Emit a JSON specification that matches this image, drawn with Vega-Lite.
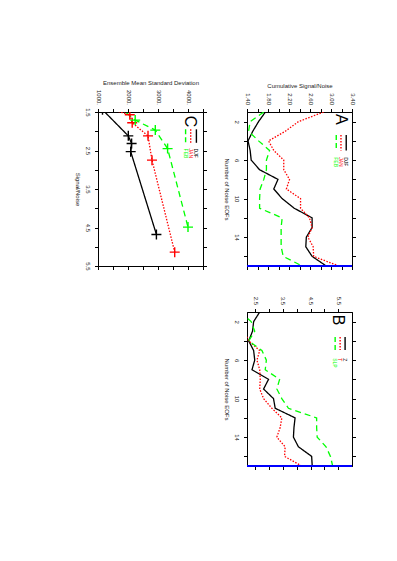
{
  "$schema": "https://vega.github.io/schema/vega-lite/v6.json",
  "autosize": {"type": "none"},
  "padding": {"left": 98, "top": 112, "right": 299, "bottom": 449},
  "background": "white",
  "datasets": {
    "a": [
      {"s":"DJF","eof":1,"v":1.75},{"s":"DJF","eof":2,"v":1.62},{"s":"DJF","eof":3,"v":1.51},{"s":"DJF","eof":4,"v":1.42},{"s":"DJF","eof":5,"v":1.46},{"s":"DJF","eof":6,"v":1.48},{"s":"DJF","eof":7,"v":1.64},{"s":"DJF","eof":8,"v":1.99},{"s":"DJF","eof":9,"v":1.91},{"s":"DJF","eof":10,"v":2.07},{"s":"DJF","eof":11,"v":2.30},{"s":"DJF","eof":12,"v":2.64},{"s":"DJF","eof":13,"v":2.64},{"s":"DJF","eof":14,"v":2.53},{"s":"DJF","eof":15,"v":2.52},{"s":"DJF","eof":16,"v":2.64},{"s":"DJF","eof":17,"v":2.91},
      {"s":"JAN","eof":1,"v":2.86},{"s":"JAN","eof":2,"v":2.38},{"s":"JAN","eof":3,"v":2.13},{"s":"JAN","eof":4,"v":1.81},{"s":"JAN","eof":5,"v":1.91},{"s":"JAN","eof":6,"v":2.10},{"s":"JAN","eof":7,"v":2.10},{"s":"JAN","eof":8,"v":2.21},{"s":"JAN","eof":9,"v":2.15},{"s":"JAN","eof":10,"v":2.42},{"s":"JAN","eof":11,"v":2.42},{"s":"JAN","eof":12,"v":2.59},{"s":"JAN","eof":13,"v":2.64},{"s":"JAN","eof":14,"v":2.56},{"s":"JAN","eof":15,"v":2.66},{"s":"JAN","eof":16,"v":2.67},{"s":"JAN","eof":17,"v":3.15},
      {"s":"FEB","eof":1,"v":1.72},{"s":"FEB","eof":2,"v":1.46},{"s":"FEB","eof":3,"v":1.43},{"s":"FEB","eof":4,"v":1.62},{"s":"FEB","eof":5,"v":1.83},{"s":"FEB","eof":6,"v":1.77},{"s":"FEB","eof":7,"v":1.77},{"s":"FEB","eof":8,"v":1.72},{"s":"FEB","eof":9,"v":1.65},{"s":"FEB","eof":10,"v":1.64},{"s":"FEB","eof":11,"v":1.64},{"s":"FEB","eof":12,"v":2.07},{"s":"FEB","eof":13,"v":2.05},{"s":"FEB","eof":14,"v":2.05},{"s":"FEB","eof":15,"v":2.05},{"s":"FEB","eof":16,"v":2.09},{"s":"FEB","eof":17,"v":2.45}
    ],
    "b": [
      {"s":"Z","eof":1,"v":2.66},{"s":"Z","eof":2,"v":2.44},{"s":"Z","eof":3,"v":2.40},{"s":"Z","eof":4,"v":2.26},{"s":"Z","eof":5,"v":2.44},{"s":"Z","eof":6,"v":2.48},{"s":"Z","eof":7,"v":2.38},{"s":"Z","eof":8,"v":2.98},{"s":"Z","eof":9,"v":2.80},{"s":"Z","eof":10,"v":3.16},{"s":"Z","eof":11,"v":3.22},{"s":"Z","eof":12,"v":3.94},{"s":"Z","eof":13,"v":3.90},{"s":"Z","eof":14,"v":3.88},{"s":"Z","eof":15,"v":4.06},{"s":"Z","eof":16,"v":4.54},{"s":"Z","eof":17,"v":4.56},
      {"s":"T","eof":3,"v":2.10},{"s":"T","eof":4,"v":2.26},{"s":"T","eof":5,"v":2.66},{"s":"T","eof":6,"v":2.56},{"s":"T","eof":7,"v":2.66},{"s":"T","eof":8,"v":2.68},{"s":"T","eof":9,"v":2.66},{"s":"T","eof":10,"v":2.80},{"s":"T","eof":11,"v":3.10},{"s":"T","eof":12,"v":3.46},{"s":"T","eof":13,"v":3.40},{"s":"T","eof":14,"v":3.28},{"s":"T","eof":15,"v":3.58},{"s":"T","eof":16,"v":3.56},{"s":"T","eof":17,"v":4.18},
      {"s":"SLP","eof":1,"v":1.95},{"s":"SLP","eof":2,"v":2.35},{"s":"SLP","eof":3,"v":2.48},{"s":"SLP","eof":4,"v":2.26},{"s":"SLP","eof":5,"v":2.74},{"s":"SLP","eof":6,"v":2.90},{"s":"SLP","eof":7,"v":2.86},{"s":"SLP","eof":8,"v":3.38},{"s":"SLP","eof":9,"v":3.28},{"s":"SLP","eof":10,"v":3.46},{"s":"SLP","eof":11,"v":3.70},{"s":"SLP","eof":12,"v":4.72},{"s":"SLP","eof":13,"v":4.72},{"s":"SLP","eof":14,"v":4.74},{"s":"SLP","eof":15,"v":5.06},{"s":"SLP","eof":16,"v":5.22},{"s":"SLP","eof":17,"v":5.30}
    ],
    "c": [
      {"s":"DJF","sn":1.44,"sd":1150},{"s":"DJF","sn":2.12,"sd":2010},{"s":"DJF","sn":2.32,"sd":2120},{"s":"DJF","sn":2.53,"sd":2090},{"s":"DJF","sn":4.68,"sd":2947},
      {"s":"JAN","sn":1.36,"sd":1100},{"s":"JAN","sn":1.57,"sd":2060},{"s":"JAN","sn":1.78,"sd":2140},{"s":"JAN","sn":2.12,"sd":2667},{"s":"JAN","sn":2.75,"sd":2800},{"s":"JAN","sn":5.14,"sd":3557},
      {"s":"FEB","sn":1.36,"sd":1690},{"s":"FEB","sn":1.71,"sd":2240},{"s":"FEB","sn":1.97,"sd":2910},{"s":"FEB","sn":2.45,"sd":3320},{"s":"FEB","sn":4.49,"sd":4000}
    ],
    "one": [{}]
  },
  "hconcat": [
    {
      "width": 105, "height": 154,
      "data": {"name": "c"},
      "layer": [
        {"mark": {"type": "line", "clip": true, "strokeWidth": 1.3},
         "encoding": {
           "x": {"field": "sd", "type": "quantitative", "scale": {"domain": [1000, 4500], "nice": false, "zero": false},
                 "axis": {"orient": "top", "title": "Ensemble Mean Standard Deviation", "values": [1000,1500,2000,2500,3000,3500,4000,4500], "labelExpr": "datum.value % 1000 == 0 && datum.value < 4500 ? datum.value + '.' : ''", "labelAngle": 90, "labelAlign": "right", "labelBaseline": "middle"}},
           "y": {"field": "sn", "type": "quantitative", "scale": {"domain": [1.5, 5.5], "reverse": true, "nice": false, "zero": false},
                 "axis": {"orient": "left", "title": "Signal/Noise", "values": [1.5,2,2.5,3,3.5,4,4.5,5,5.5], "labelExpr": "round(datum.value*10) % 10 == 5 ? format(datum.value, '.1f') : ''", "labelAngle": 90, "labelAlign": "center", "labelBaseline": "top", "titleAngle": 90, "titleBaseline": "top"}},
           "color": {"field": "s", "type": "nominal", "scale": {"domain": ["DJF","JAN","FEB"], "range": ["#000000","#ff0000","#00ff00"]}, "legend": null},
           "strokeDash": {"field": "s", "type": "nominal", "scale": {"domain": ["DJF","JAN","FEB"], "range": [[1,0],[1.5,1.5],[6,4]]}, "legend": null},
           "order": {"field": "sn", "type": "quantitative"}
         }},
        {"mark": {"type": "point", "clip": true, "shape": "M-1,0L1,0M0,-1L0,1", "size": 100, "strokeWidth": 1.4, "filled": false, "opacity": 1},
         "encoding": {
           "x": {"field": "sd", "type": "quantitative", "scale": {"domain": [1000, 4500], "nice": false, "zero": false},
                 "axis": {"orient": "bottom", "labels": false, "title": null, "values": [1000,1500,2000,2500,3000,3500,4000,4500]}},
           "y": {"field": "sn", "type": "quantitative", "scale": {"domain": [1.5, 5.5], "reverse": true, "nice": false, "zero": false},
                 "axis": {"orient": "right", "labels": false, "title": null, "values": [1.5,2,2.5,3,3.5,4,4.5,5,5.5]}},
           "color": {"field": "s", "type": "nominal", "scale": {"domain": ["DJF","JAN","FEB"], "range": ["#000000","#ff0000","#00ff00"]}, "legend": null}
         }},
        {"data": {"name": "one"}, "mark": {"type": "text", "text": "C", "angle": 90, "fontSize": 16, "align": "center", "baseline": "middle"},
         "encoding": {"x": {"datum": 4057, "type": "quantitative", "axis": null}, "y": {"datum": 1.75, "type": "quantitative", "axis": null}}},
        {"data": {"name": "one"}, "mark": {"type": "rule", "color": "#000000", "strokeWidth": 1.4},
         "encoding": {"x": {"datum": 4280, "type": "quantitative", "axis": null}, "y": {"datum": 1.95, "type": "quantitative", "axis": null}, "y2": {"datum": 2.3}}},
        {"data": {"name": "one"}, "mark": {"type": "rule", "color": "#ff0000", "strokeWidth": 1.4, "strokeDash": [1.5, 1.5]},
         "encoding": {"x": {"datum": 4090, "type": "quantitative", "axis": null}, "y": {"datum": 1.95, "type": "quantitative", "axis": null}, "y2": {"datum": 2.3}}},
        {"data": {"name": "one"}, "mark": {"type": "rule", "color": "#00ff00", "strokeWidth": 1.4, "strokeDash": [5, 3]},
         "encoding": {"x": {"datum": 3920, "type": "quantitative", "axis": null}, "y": {"datum": 1.95, "type": "quantitative", "axis": null}, "y2": {"datum": 2.3}}},
        {"data": {"name": "one"}, "mark": {"type": "text", "text": "DJF", "angle": 90, "fontSize": 5, "align": "left", "baseline": "middle", "color": "#000000"},
         "encoding": {"x": {"datum": 4280, "type": "quantitative", "axis": null}, "y": {"datum": 2.45, "type": "quantitative", "axis": null}}},
        {"data": {"name": "one"}, "mark": {"type": "text", "text": "JAN", "angle": 90, "fontSize": 5, "align": "left", "baseline": "middle", "color": "#ff0000"},
         "encoding": {"x": {"datum": 4090, "type": "quantitative", "axis": null}, "y": {"datum": 2.45, "type": "quantitative", "axis": null}}},
        {"data": {"name": "one"}, "mark": {"type": "text", "text": "FEB", "angle": 90, "fontSize": 5, "align": "left", "baseline": "middle", "color": "#00ff00"},
         "encoding": {"x": {"datum": 3920, "type": "quantitative", "axis": null}, "y": {"datum": 2.45, "type": "quantitative", "axis": null}}}
      ],
      "resolve": {"axis": {"x": "independent", "y": "independent"}}
    },
    {
      "spacing": 46,
      "bounds": "flush",
      "vconcat": [
        {
          "width": 105, "height": 154,
          "data": {"name": "a"},
          "layer": [
            {"mark": {"type": "line", "clip": true, "strokeWidth": 1.3},
             "encoding": {
               "x": {"field": "v", "type": "quantitative", "scale": {"domain": [1.4, 3.4], "nice": false, "zero": false},
                     "axis": {"orient": "top", "title": "Cumulative Signal/Noise", "values": [1.4,1.6,1.8,2.0,2.2,2.4,2.6,2.8,3.0,3.2,3.4], "labelExpr": "round(datum.value*10) % 4 == 2 ? format(datum.value, '.2f') : ''", "labelAngle": 90, "labelAlign": "right", "labelBaseline": "middle"}},
               "y": {"field": "eof", "type": "quantitative", "scale": {"domain": [1, 17], "reverse": true, "nice": false, "zero": false},
                     "axis": {"orient": "left", "title": "Number of Noise EOFs", "values": [2,4,6,8,10,12,14,16], "labelExpr": "datum.value % 4 == 2 ? datum.label : ''", "labelAngle": 90, "labelAlign": "center", "labelBaseline": "top", "titleAngle": 90, "titleBaseline": "top"}},
               "color": {"field": "s", "type": "nominal", "scale": {"domain": ["DJF","JAN","FEB"], "range": ["#000000","#ff0000","#00ff00"]}, "legend": null},
               "strokeDash": {"field": "s", "type": "nominal", "scale": {"domain": ["DJF","JAN","FEB"], "range": [[1,0],[1.5,1.5],[6,4]]}, "legend": null},
               "order": {"field": "eof", "type": "quantitative"}
             }},
            {"mark": {"type": "point", "opacity": 0},
             "encoding": {
               "x": {"field": "v", "type": "quantitative", "scale": {"domain": [1.4, 3.4], "nice": false, "zero": false},
                     "axis": {"orient": "bottom", "labels": false, "title": null, "values": [1.4,1.6,1.8,2.0,2.2,2.4,2.6,2.8,3.0,3.2,3.4]}},
               "y": {"field": "eof", "type": "quantitative", "scale": {"domain": [1, 17], "reverse": true, "nice": false, "zero": false},
                     "axis": {"orient": "right", "labels": false, "title": null, "values": [2,4,6,8,10,12,14,16]}}
             }},
            {"data": {"name": "one"}, "mark": {"type": "rule", "color": "#0000ff", "strokeWidth": 2.2},
             "encoding": {"y": {"datum": 17, "type": "quantitative", "axis": null}}},
            {"data": {"name": "one"}, "mark": {"type": "text", "text": "A", "angle": 90, "fontSize": 16, "align": "center", "baseline": "middle"},
             "encoding": {"x": {"datum": 3.19, "type": "quantitative", "axis": null}, "y": {"datum": 1.75, "type": "quantitative", "axis": null}}},
            {"data": {"name": "one"}, "mark": {"type": "rule", "color": "#000000", "strokeWidth": 1.4},
             "encoding": {"x": {"datum": 3.29, "type": "quantitative", "axis": null}, "y": {"datum": 3.4, "type": "quantitative", "axis": null}, "y2": {"datum": 5.0}}},
            {"data": {"name": "one"}, "mark": {"type": "rule", "color": "#ff0000", "strokeWidth": 1.4, "strokeDash": [1.5, 1.5]},
             "encoding": {"x": {"datum": 3.19, "type": "quantitative", "axis": null}, "y": {"datum": 3.4, "type": "quantitative", "axis": null}, "y2": {"datum": 5.0}}},
            {"data": {"name": "one"}, "mark": {"type": "rule", "color": "#00ff00", "strokeWidth": 1.4, "strokeDash": [5, 3]},
             "encoding": {"x": {"datum": 3.10, "type": "quantitative", "axis": null}, "y": {"datum": 3.4, "type": "quantitative", "axis": null}, "y2": {"datum": 5.0}}},
            {"data": {"name": "one"}, "mark": {"type": "text", "text": "DJF", "angle": 90, "fontSize": 5, "align": "left", "baseline": "middle", "color": "#000000"},
             "encoding": {"x": {"datum": 3.29, "type": "quantitative", "axis": null}, "y": {"datum": 5.7, "type": "quantitative", "axis": null}}},
            {"data": {"name": "one"}, "mark": {"type": "text", "text": "JAN", "angle": 90, "fontSize": 5, "align": "left", "baseline": "middle", "color": "#ff0000"},
             "encoding": {"x": {"datum": 3.19, "type": "quantitative", "axis": null}, "y": {"datum": 5.7, "type": "quantitative", "axis": null}}},
            {"data": {"name": "one"}, "mark": {"type": "text", "text": "FEB", "angle": 90, "fontSize": 5, "align": "left", "baseline": "middle", "color": "#00ff00"},
             "encoding": {"x": {"datum": 3.10, "type": "quantitative", "axis": null}, "y": {"datum": 5.7, "type": "quantitative", "axis": null}}}
          ],
          "resolve": {"axis": {"x": "independent", "y": "independent"}}
        },
        {
          "width": 105, "height": 154,
          "data": {"name": "b"},
          "layer": [
            {"mark": {"type": "line", "clip": true, "strokeWidth": 1.3},
             "encoding": {
               "x": {"field": "v", "type": "quantitative", "scale": {"domain": [2.2, 6.0], "nice": false, "zero": false},
                     "axis": {"orient": "top", "title": null, "values": [2.5,3.0,3.5,4.0,4.5,5.0,5.5], "labelExpr": "round(datum.value*10) % 10 == 5 ? format(datum.value, '.1f') : ''", "labelAngle": 90, "labelAlign": "right", "labelBaseline": "middle"}},
               "y": {"field": "eof", "type": "quantitative", "scale": {"domain": [1, 17], "reverse": true, "nice": false, "zero": false},
                     "axis": {"orient": "left", "title": "Number of Noise EOFs", "values": [2,4,6,8,10,12,14,16], "labelExpr": "datum.value % 4 == 2 ? datum.label : ''", "labelAngle": 90, "labelAlign": "center", "labelBaseline": "top", "titleAngle": 90, "titleBaseline": "top"}},
               "color": {"field": "s", "type": "nominal", "scale": {"domain": ["Z","T","SLP"], "range": ["#000000","#ff0000","#00ff00"]}, "legend": null},
               "strokeDash": {"field": "s", "type": "nominal", "scale": {"domain": ["Z","T","SLP"], "range": [[1,0],[1.5,1.5],[6,4]]}, "legend": null},
               "order": {"field": "eof", "type": "quantitative"}
             }},
            {"mark": {"type": "point", "opacity": 0},
             "encoding": {
               "x": {"field": "v", "type": "quantitative", "scale": {"domain": [2.2, 6.0], "nice": false, "zero": false},
                     "axis": {"orient": "bottom", "labels": false, "title": null, "values": [2.5,3.0,3.5,4.0,4.5,5.0,5.5]}},
               "y": {"field": "eof", "type": "quantitative", "scale": {"domain": [1, 17], "reverse": true, "nice": false, "zero": false},
                     "axis": {"orient": "right", "labels": false, "title": null, "values": [2,4,6,8,10,12,14,16]}}
             }},
            {"data": {"name": "one"}, "mark": {"type": "rule", "color": "#0000ff", "strokeWidth": 2.2},
             "encoding": {"y": {"datum": 17, "type": "quantitative", "axis": null}}},
            {"data": {"name": "one"}, "mark": {"type": "text", "text": "B", "angle": 90, "fontSize": 16, "align": "center", "baseline": "middle"},
             "encoding": {"x": {"datum": 5.5, "type": "quantitative", "axis": null}, "y": {"datum": 1.83, "type": "quantitative", "axis": null}}},
            {"data": {"name": "one"}, "mark": {"type": "rule", "color": "#000000", "strokeWidth": 1.4},
             "encoding": {"x": {"datum": 5.75, "type": "quantitative", "axis": null}, "y": {"datum": 3.6, "type": "quantitative", "axis": null}, "y2": {"datum": 4.95}}},
            {"data": {"name": "one"}, "mark": {"type": "rule", "color": "#ff0000", "strokeWidth": 1.4, "strokeDash": [1.5, 1.5]},
             "encoding": {"x": {"datum": 5.57, "type": "quantitative", "axis": null}, "y": {"datum": 3.6, "type": "quantitative", "axis": null}, "y2": {"datum": 4.95}}},
            {"data": {"name": "one"}, "mark": {"type": "rule", "color": "#00ff00", "strokeWidth": 1.4, "strokeDash": [5, 3]},
             "encoding": {"x": {"datum": 5.39, "type": "quantitative", "axis": null}, "y": {"datum": 3.6, "type": "quantitative", "axis": null}, "y2": {"datum": 4.95}}},
            {"data": {"name": "one"}, "mark": {"type": "text", "text": "Z", "angle": 90, "fontSize": 5, "align": "left", "baseline": "middle", "color": "#000000"},
             "encoding": {"x": {"datum": 5.75, "type": "quantitative", "axis": null}, "y": {"datum": 5.8, "type": "quantitative", "axis": null}}},
            {"data": {"name": "one"}, "mark": {"type": "text", "text": "T", "angle": 90, "fontSize": 5, "align": "left", "baseline": "middle", "color": "#ff0000"},
             "encoding": {"x": {"datum": 5.57, "type": "quantitative", "axis": null}, "y": {"datum": 5.8, "type": "quantitative", "axis": null}}},
            {"data": {"name": "one"}, "mark": {"type": "text", "text": "SLP", "angle": 90, "fontSize": 5, "align": "left", "baseline": "middle", "color": "#00ff00"},
             "encoding": {"x": {"datum": 5.39, "type": "quantitative", "axis": null}, "y": {"datum": 5.8, "type": "quantitative", "axis": null}}}
          ],
          "resolve": {"axis": {"x": "independent", "y": "independent"}}
        }
      ],
      "resolve": {"scale": {"color": "independent", "strokeDash": "independent"}}
    }
  ],
  "spacing": 44,
  "bounds": "flush",
  "resolve": {"scale": {"color": "independent", "strokeDash": "independent"}},
  "config": {
    "view": {"stroke": "#000000", "strokeWidth": 1},
    "font": "Liberation Sans",
    "axis": {"labelFont": "Liberation Sans", "titleFont": "Liberation Sans", "labelFontSize": 6, "titleFontSize": 6, "titleFontWeight": "normal", "labelColor": "#222222", "titleColor": "#222222", "tickColor": "#000000", "domainColor": "#000000", "tickSize": 3.5, "grid": false, "domain": true, "labelPadding": 4, "titlePadding": 4, "labelOverlap": false, "labelBound": false, "labelFlush": false},
    "text": {"font": "Liberation Sans"}
  }
}
